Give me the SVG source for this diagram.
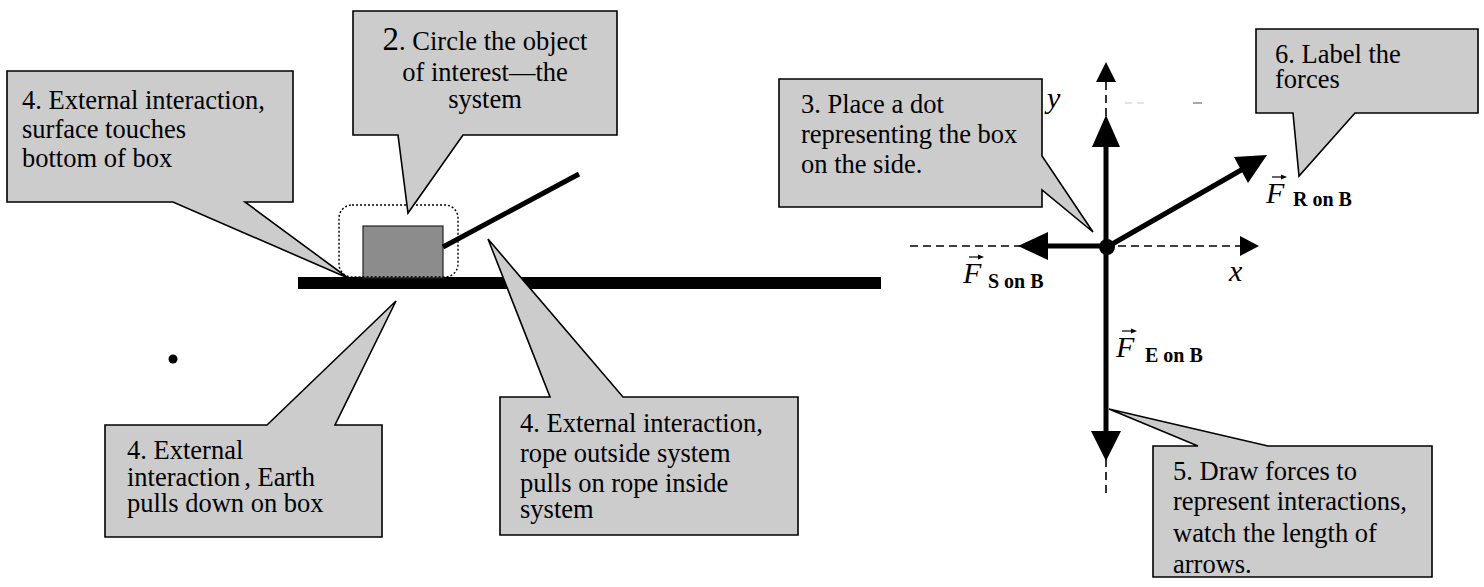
<svg xmlns="http://www.w3.org/2000/svg" width="1484" height="587" viewBox="0 0 1484 587">
  <style>
    .callout { fill: #cccccc; stroke: #000000; stroke-width: 1.6; stroke-linejoin: miter; }
    .txt { font-family: "Liberation Serif", "Times New Roman", serif; font-size: 26.5px; fill: #000000; }
    .var { font-family: "Liberation Serif", "Times New Roman", serif; font-style: italic; font-size: 30px; fill: #000000; }
    .sub { font-family: "Liberation Serif", "Times New Roman", serif; font-weight: bold; font-size: 20px; fill: #000000; }
    .force { stroke: #000000; stroke-width: 5; fill: none; }
    .axis { stroke: #000000; stroke-width: 1.6; stroke-dasharray: 8 5; fill: none; }
    .head { fill: #000000; stroke: none; }
    .vec { stroke: #000000; stroke-width: 1.2; fill: none; }
  </style>

  <!-- Scene: surface, box, rope, system boundary -->
  <g id="scene">
    <rect id="surface" x="298" y="277" width="583" height="12" fill="#000000"/>
    <rect id="box" x="363" y="226" width="80" height="52" fill="#8c8c8c" stroke="#222222" stroke-width="1.2"/>
    <line id="rope" x1="443" y1="247" x2="579" y2="174" stroke="#000000" stroke-width="5"/>
    <rect id="system-boundary" x="339" y="205" width="119" height="72" rx="13" ry="13" fill="none" stroke="#000000" stroke-width="1.4" stroke-dasharray="2 2"/>
    <circle id="stray-dot" cx="173" cy="359" r="4.5" fill="#000000"/>
  </g>

  <!-- Callout: surface contact -->
  <g id="callout-surface">
    <path class="callout" d="M7,71 H293 V202 H245 L348,278 L173,202 H7 Z"/>
    <text class="txt" x="22" y="109">4. External interaction,</text>
    <text class="txt" x="22" y="138">surface touches</text>
    <text class="txt" x="22" y="167">bottom of box</text>
  </g>

  <!-- Callout: circle the system -->
  <g id="callout-system">
    <path class="callout" d="M353,11 H617 V135 H463 L408,213 L398,135 H353 Z"/>
    <text class="txt" x="485" y="50" text-anchor="middle"><tspan font-size="33px">2</tspan>. Circle the object</text>
    <text class="txt" x="485" y="81" text-anchor="middle">of interest—the</text>
    <text class="txt" x="485" y="108" text-anchor="middle">system</text>
  </g>

  <!-- Callout: Earth -->
  <g id="callout-earth">
    <path class="callout" d="M105,425 H267 L396,301 L335,425 H382 V537 H105 Z"/>
    <text class="txt" x="127" y="459">4. External</text>
    <text class="txt" x="127" y="486">interaction<tspan dx="4">,</tspan> Earth</text>
    <text class="txt" x="127" y="512">pulls down on box</text>
  </g>

  <!-- Callout: rope -->
  <g id="callout-rope">
    <path class="callout" d="M500,397 H550 L488,239 L623,397 H798 V535 H500 Z"/>
    <text class="txt" x="520" y="432">4. External interaction,</text>
    <text class="txt" x="520" y="462">rope outside system</text>
    <text class="txt" x="520" y="492">pulls on rope inside</text>
    <text class="txt" x="520" y="518">system</text>
  </g>

  <!-- Callout: place a dot -->
  <g id="callout-dot">
    <path class="callout" d="M779,79 H1042 V156 L1093,232 L1042,190 V207 H779 Z"/>
    <text class="txt" x="801" y="113">3. Place a dot</text>
    <text class="txt" x="801" y="143">representing the box</text>
    <text class="txt" x="801" y="173">on the side.</text>
  </g>

  <!-- Callout: label the forces -->
  <g id="callout-label">
    <path class="callout" d="M1256,29 H1478 V113 H1355 L1299,176 L1293,113 H1256 Z"/>
    <text class="txt" x="1275" y="63">6. Label the</text>
    <text class="txt" x="1275" y="88">forces</text>
  </g>

  <!-- Callout: draw forces -->
  <g id="callout-draw">
    <path class="callout" d="M1153,446 H1198 L1109,409 L1268,446 H1432 V577 H1153 Z"/>
    <text class="txt" x="1173" y="480">5. Draw forces to</text>
    <text class="txt" x="1173" y="510">represent interactions,</text>
    <text class="txt" x="1173" y="542">watch the length of</text>
    <text class="txt" x="1173" y="573">arrows.</text>
  </g>

  <!-- Free-body diagram: axes and force vectors -->
  <g id="connectors">
    <!-- coordinate axes -->
    <line class="axis" x1="910" y1="246" x2="1242" y2="246"/>
    <polygon class="head" points="1259,246 1240,236 1240,256"/>
    <line class="axis" x1="1106" y1="82" x2="1106" y2="498"/>
    <polygon class="head" points="1106,62 1096,82 1116,82"/>

    <!-- normal force (up) -->
    <line class="force" x1="1106" y1="247" x2="1106" y2="144"/>
    <polygon class="head" points="1106,115 1092,147 1120,147"/>
    <!-- friction (left) -->
    <line class="force" x1="1106" y1="246" x2="1046" y2="246"/>
    <polygon class="head" points="1018,246 1048,232 1048,260"/>
    <!-- gravity (down) -->
    <line class="force" x1="1106" y1="247" x2="1106" y2="434"/>
    <polygon class="head" points="1106,461 1091,431 1121,431"/>
    <!-- rope tension -->
    <line class="force" x1="1107" y1="247" x2="1243" y2="169"/>
    <polygon class="head" points="1267,155 1234,157 1248,183"/>

    <circle cx="1107" cy="247" r="8" fill="#000000"/>

    <!-- faint leftover marks beside the y axis -->
    <line x1="1125" y1="103" x2="1132" y2="103" stroke="#c8c8c8" stroke-width="1"/>
    <line x1="1137" y1="103" x2="1144" y2="103" stroke="#c8c8c8" stroke-width="1"/>
    <line x1="1193" y1="103" x2="1202" y2="103" stroke="#555555" stroke-width="1"/>
  </g>

  <!-- Axis and force labels -->
  <g id="labels">
    <text class="var" x="1047" y="108">y</text>
    <text class="var" x="1229" y="281">x</text>

    <g id="label-s">
      <text class="var" x="963" y="283">F</text>
      <line class="vec" x1="969" y1="257" x2="982" y2="257"/>
      <polygon class="head" points="984,257 978,254.5 978,259.5"/>
      <text class="sub" x="988" y="288">S on B</text>
    </g>
    <g id="label-r">
      <text class="var" x="1266" y="203">F</text>
      <line class="vec" x1="1272" y1="177" x2="1285" y2="177"/>
      <polygon class="head" points="1287,177 1281,174.5 1281,179.5"/>
      <text class="sub" x="1293" y="206">R on B</text>
    </g>
    <g id="label-e">
      <text class="var" x="1116" y="357">F</text>
      <line class="vec" x1="1122" y1="331" x2="1135" y2="331"/>
      <polygon class="head" points="1137,331 1131,328.5 1131,333.5"/>
      <text class="sub" x="1145" y="362">E on B</text>
    </g>
  </g>
</svg>
